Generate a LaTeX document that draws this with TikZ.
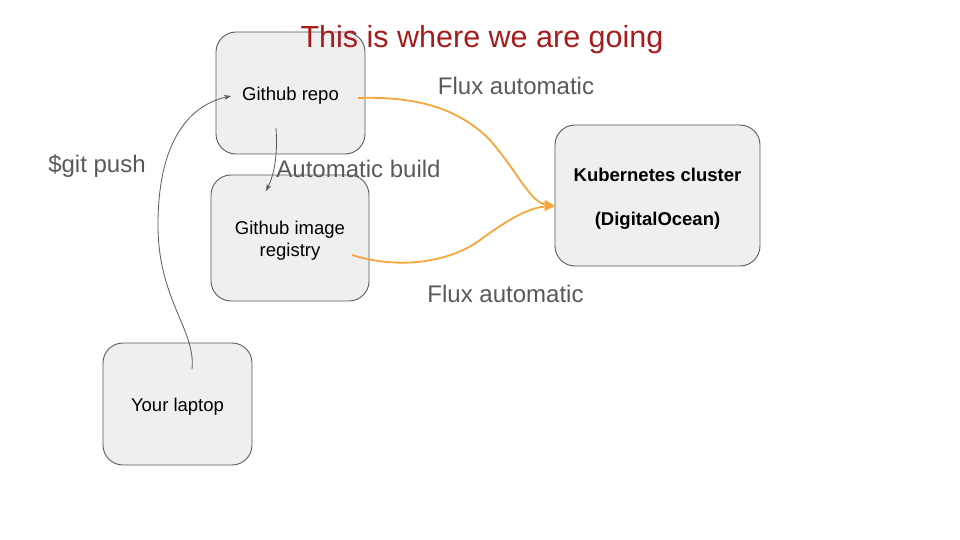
\documentclass[tikz,border=0pt]{standalone}
\usepackage{fontspec}
\setmainfont{Liberation Sans}
\usetikzlibrary{arrows.meta}

\definecolor{boxfill}{HTML}{EFEFEF}
\definecolor{boxline}{HTML}{595959}
\definecolor{labelgray}{HTML}{595959}
\definecolor{fluxorange}{HTML}{F6A73B}
\definecolor{titlered}{HTML}{A61C1C}

\tikzset{
  every box/.style={draw=boxline, fill=boxfill, rounded corners=20pt,
    line width=0.9pt, inner sep=0pt},
  box text/.style={align=center, inner sep=0pt, yshift=-3pt,
    font=\fontsize{18.5}{22}\selectfont},
  step label/.style={anchor=base, text=labelgray,
    font=\fontsize{24}{28}\selectfont},
  push arrow/.style={draw=boxline, line width=0.8pt,
    -{Stealth[length=7pt,width=5pt]}},
  flux arrow/.style={draw=fluxorange, line width=1.8pt,
    -{Stealth[length=11pt,width=10pt,inset=3pt]}}
}

\begin{document}
\begin{tikzpicture}[x=1pt, y=-1pt]

\useasboundingbox (0,0) rectangle (960,540);

% boxes
\node [every box, minimum width=149pt, minimum height=122pt] (repo) at (290.5,93) {};
\node [every box, minimum width=158pt, minimum height=126pt] (registry) at (290,238) {};
\node [every box, minimum width=205pt, minimum height=141pt] (cluster) at (657.5,195.5) {};
\node [every box, minimum width=149pt, minimum height=122pt] (laptop) at (177.5,404) {};

\node [box text] (repo-text) at (repo.center) {Github repo};
\node [box text] (registry-text) at (registry.center) {Github image\\registry};
\node [box text, font=\fontsize{18.5}{22}\selectfont\bfseries] (cluster-text) at (cluster.center) {Kubernetes cluster\\[22pt](DigitalOcean)};
\node [box text] (laptop-text) at (laptop.center) {Your laptop};

% title
\node [anchor=base, text=titlered, font=\fontsize{30.5}{34}\selectfont] (title) at (482,48) {This is where we are going};

% connector ends
\coordinate (push-start) at (192,369);
\coordinate (push-end) at (231,96);
\coordinate (build-start) at (276,128);
\coordinate (build-end) at (266,191);
\coordinate (flux-repo) at (358,98);
\coordinate (flux-registry) at (352,255);
\coordinate (flux-end) at (555,206);

\draw [push arrow] (push-start) .. controls (196,330) and (158,300) .. (158,225)
  .. controls (158,140) and (190,105) .. (push-end);
\draw [push arrow] (build-start) .. controls (278,155) and (274,175) .. (build-end);

\draw [flux arrow] (flux-repo) .. controls (420,96) and (460,110) .. (490,140)
  .. controls (520,175) and (530,203) .. (flux-end);
\draw [flux arrow] (flux-registry) .. controls (400,270) and (450,262) .. (480,240)
  .. controls (510,218) and (530,207) .. (flux-end);

% labels
\node [step label] (flux-top) at (516,94.5) {Flux automatic};
\node [step label] (build) at (358.5,177.5) {Automatic build};
\node [step label] (push) at (97,172.5) {\$git push};
\node [step label] (flux-bottom) at (505.5,302.5) {Flux automatic};

\end{tikzpicture}
\end{document}
